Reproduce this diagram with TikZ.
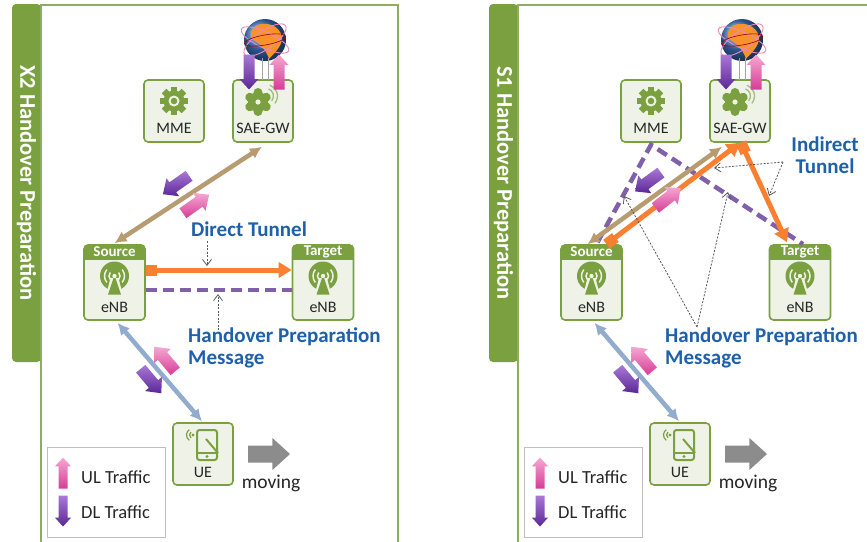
\documentclass[tikz,border=0pt]{standalone}
\usepackage{fontspec}
\setmainfont{Carlito}
\usetikzlibrary{arrows.meta,calc}

\definecolor{lteGreen}{RGB}{122,160,64}
\definecolor{boxFill}{RGB}{239,243,231}
\definecolor{labelBlue}{RGB}{30,96,170}
\definecolor{tunnelOrange}{RGB}{248,128,48}
\definecolor{msgPurple}{RGB}{128,96,170}
\definecolor{s1Tan}{RGB}{182,156,112}
\definecolor{radioBlue}{RGB}{146,172,206}
\definecolor{ulPink}{RGB}{214,60,150}
\definecolor{ulPinkLight}{RGB}{246,168,210}
\definecolor{dlPurple}{RGB}{90,40,150}
\definecolor{dlPurpleLight}{RGB}{170,120,215}
\definecolor{moveGray}{RGB}{140,140,140}
\definecolor{globeBlue}{RGB}{60,120,200}

\tikzset{
  netbox/.style={draw=lteGreen, line width=1.6pt, fill=boxFill, rounded corners=4pt,
    minimum width=60pt, minimum height=62pt, inner sep=0pt},
  enbbox/.style={draw=lteGreen, line width=1.6pt, fill=boxFill, rounded corners=4pt,
    minimum width=61pt, minimum height=75pt, inner sep=0pt},
  boxlabel/.style={font=\fontsize{16}{16}\selectfont, text=black!85, inner sep=0pt},
  tablabel/.style={font=\fontsize{15}{15}\selectfont\bfseries, text=white, inner sep=0pt},
  bluelabel/.style={font=\fontsize{21}{21.5}\selectfont\bfseries, text=labelBlue, inner sep=0pt},
  sidelabel/.style={font=\fontsize{22.5}{22.5}\selectfont\bfseries, text=white, rotate=-90, inner sep=0pt},
  framebox/.style={draw=lteGreen!85, line width=1.2pt},
  tanlink/.style={draw=s1Tan, line width=4.5pt, {Latex[length=12pt,width=12pt]}-{Latex[length=12pt,width=12pt]}},
  radiolink/.style={draw=radioBlue, line width=4.5pt, {Latex[length=12pt,width=12pt]}-{Latex[length=12pt,width=12pt]}},
  tunnel/.style={draw=tunnelOrange, line width=5pt, {Square[length=11pt,width=11pt]}-{Triangle[length=13pt,width=15pt]}},
  prepmsg/.style={draw=msgPurple, line width=4.5pt, dash pattern=on 11pt off 6pt},
  pointer/.style={draw=black!65, line width=0.8pt, dash pattern=on 2pt off 1.5pt, -{Straight Barb[length=6pt,width=9pt]}},
  ulfill/.style={top color=ulPinkLight, bottom color=ulPink},
  dlfill/.style={top color=dlPurpleLight, bottom color=dlPurple},
  movefill/.style={top color=moveGray, bottom color=moveGray},
  legendbox/.style={draw=black!25, line width=1pt, minimum width=118pt, minimum height=90pt, inner sep=0pt},
  legendlabel/.style={font=\fontsize{18.5}{18.5}\selectfont, text=black!85, inner sep=0pt, anchor=west}
}

% block arrow pointing along local +x:
% #1 total length, #2 shaft width, #3 head width, #4 fill style
\tikzset{
  pics/blockarrow/.style n args={4}{code={
    \pgfmathsetmacro\hl{0.55*#3}
    \shade[#4] ({-#1/2},{-#2/2}) -- ({#1/2-\hl},{-#2/2}) -- ({#1/2-\hl},{-#3/2})
      -- ({#1/2},0) -- ({#1/2-\hl},{#3/2}) -- ({#1/2-\hl},{#2/2}) -- ({-#1/2},{#2/2}) -- cycle;
  }}
}

% icons (local units: 1pt, y pointing down)
\tikzset{
  pics/gearicon/.style={code={
    \fill[lteGreen] (0,0) circle (10.5pt);
    \foreach \a in {0,45,...,135}
      \fill[lteGreen, rotate=\a] (-3.3,-14) rectangle (3.3,14);
    \fill[boxFill] (0,0) circle (5.5pt);
    \fill[lteGreen] (0,0) circle (3.3pt);
  }},
  pics/flowergear/.style={code={
    \foreach \a in {0,60,...,300}
      \fill[lteGreen, rotate=\a] (0,-9.5) circle (4.5pt);
    \fill[lteGreen] (0,0) circle (10pt);
    \fill[boxFill] (0,0) circle (2.6pt);
    \draw[lteGreen!70, line width=1.3pt] (8,-6) ++(40:7.5) arc (40:-70:7.5);
    \draw[lteGreen!70, line width=1.3pt] (8,-6) ++(40:11.5) arc (40:-70:11.5);
  }},
  pics/antennaicon/.style={code={
    \fill[lteGreen] (0,0) circle (14.5pt);
    \draw[boxFill, line width=1.5pt] (0,0) ++(-40:10) arc (-40:40:10);
    \draw[boxFill, line width=1.5pt] (0,0) ++(140:10) arc (140:220:10);
    \draw[boxFill, line width=1.5pt] (0,0) ++(-40:5.5) arc (-40:40:5.5);
    \draw[boxFill, line width=1.5pt] (0,0) ++(140:5.5) arc (140:220:5.5);
    \fill[boxFill] (-4,2) -- (4,2) -- (8.5,19.5) -- (-8.5,19.5) -- cycle;
    \fill[lteGreen] (0,-1) -- (6.5,18.5) -- (-6.5,18.5) -- cycle;
    \fill[boxFill] (0,0) circle (2.2pt);
  }},
  pics/phoneicon/.style={code={
    \draw[lteGreen, line width=2pt, rounded corners=2.5pt] (-10,-15) rectangle (10,15);
    \draw[lteGreen, line width=1.3pt] (-10,8) -- (10,8);
    \fill[lteGreen] (0,11.5) circle (1.7pt);
    \draw[lteGreen, line width=2pt] (-1,-6) -- (11,8);
    \fill[lteGreen] (-14,-10) circle (1.7pt);
    \draw[lteGreen, line width=1.2pt] (-14,-10) ++(125:3.5) arc (125:235:3.5);
    \draw[lteGreen, line width=1.2pt] (-14,-10) ++(125:6.5) arc (125:235:6.5);
  }},
  pics/globeicon/.style={code={
    \shade[ball color=globeBlue] (0,0) circle (21pt);
    \fill[tunnelOrange!85!yellow] (-8,-15) .. controls (6,-20) and (18,-10) .. (17,0)
      .. controls (15,9) and (7,15) .. (4,19)
      .. controls (1,9) and (-6,3) .. (-12,0)
      .. controls (-17,-3) and (-14,-12) .. cycle;
    \draw[ulPink!60, line width=0.9pt, rotate=-25] (0,0) ellipse (26pt and 8pt);
    \draw[ulPink!60, line width=0.9pt, rotate=35] (0,0) ellipse (25pt and 9pt);
    \draw[red!60!black, line width=0.6pt, rotate=10] (0,0) ellipse (21pt and 5pt);
  }}
}

% nodes shared by both panels; #1 is a name suffix
\newcommand{\corepanel}[1]{%
  % side banner and frame
  \fill[lteGreen, rounded corners=4pt] (12,4) -- (41,4) -- (41,362) -- (12,362) -- cycle;
  \draw[framebox] (41,548) -- (41,5) -- (398,5) -- (398,548);
  % core network
  \node[netbox] (mme#1) at (174,111) {};
  \pic at (174,101) {gearicon};
  \node[boxlabel] (mmetext#1) at (174,128) {MME};
  \node[netbox] (gw#1) at (263,111) {};
  \pic at (258,102) {flowergear};
  \node[boxlabel] (gwtext#1) at (263,128) {SAE-GW};
  % internet
  \pic at (265,40) {globeicon};
  \draw[black!35, line width=0.8pt] (262,58) -- (262,80);
  \draw[black!35, line width=0.8pt] (268,58) -- (268,80);
  \pic[rotate=-90] at (249,72) {blockarrow={35}{11}{19}{dlfill}};
  \pic[rotate=90] at (279,72) {blockarrow={35}{11}{19}{ulfill}};
  % eNodeBs
  \node[enbbox] (src#1) at (114.5,282.5) {};
  \fill[lteGreen, rounded corners=4pt] (84,244.5) rectangle (145,259);
  \fill[lteGreen] (84,254) rectangle (145,259.5);
  \node[tablabel] (srctab#1) at (114.5,252) {Source};
  \pic at (114.5,276) {antennaicon};
  \node[boxlabel] (srctext#1) at (114.5,307) {eNB};
  \node[enbbox] (tgt#1) at (323,282.5) {};
  \fill[lteGreen, rounded corners=4pt] (292.5,244.5) rectangle (353.5,259);
  \fill[lteGreen] (292.5,254) rectangle (353.5,259.5);
  \node[tablabel] (tgttab#1) at (323,252) {Target};
  \pic at (323,276) {antennaicon};
  \node[boxlabel] (tgttext#1) at (323,307) {eNB};
  % UE
  \node[netbox] (ue#1) at (203,454) {};
  \pic at (207,445) {phoneicon};
  \node[boxlabel] (uetext#1) at (203,472) {UE};
  \pic at (269,454) {blockarrow={42}{17}{32}{movefill}};
  \node[font=\fontsize{19.5}{19.5}\selectfont, text=black!85, inner sep=0pt] (movetext#1) at (271,483) {moving};
  % radio link
  \draw[radiolink] ($(src#1.south)+(3,2)$) -- ($(ue#1.north)+(-1,-1)$);
  \pic[rotate=130] at (165,359) {blockarrow={32}{12}{22}{ulfill}};
  \pic[rotate=-50] at (151,381) {blockarrow={32}{12}{22}{dlfill}};
  % legend
  \node[legendbox] (legend#1) at (106,492) {};
  \pic[rotate=90] at (63,473) {blockarrow={31}{9}{16}{ulfill}};
  \node[legendlabel] (legultext#1) at (81,477) {UL Traffic};
  \pic[rotate=-90] at (63,511) {blockarrow={31}{9}{16}{dlfill}};
  \node[legendlabel] (legdltext#1) at (81,512) {DL Traffic};
}

\begin{document}
\begin{tikzpicture}[x=1pt,y=-1pt]
\useasboundingbox (0,0) rectangle (867,541);
\fill[white] (0,0) rectangle (867,541);

% ---------------- X2 handover ----------------
\begin{scope}
  \corepanel{L}
  \node[sidelabel] (sidetextL) at (26.5,183) {X2 Handover Preparation};
  % S1 user plane towards the gateway
  \draw[tanlink] ($(srcL.north)+(0,-1)$) -- ($(gwL.south)+(-1,4)$);
  \pic[rotate=215] at (176,185) {blockarrow={32}{12}{22}{dlfill}};
  \pic[rotate=35] at (196,204) {blockarrow={32}{12}{22}{ulfill}};
  % X2 direct tunnel and preparation message
  \coordinate (tunStartL) at ($(srcL.east)+(0,-12.5)$);
  \coordinate (tunEndL) at ($(tgtL.west)+(0,-12.5)$);
  \draw[tunnel] (tunStartL) -- (tunEndL);
  \draw[prepmsg] ($(srcL.east)+(0,7.5)$) -- ($(tgtL.west)+(0,7.5)$);
  \node[bluelabel] (dtL) at (249,229) {Direct Tunnel};
  \coordinate (dtTipL) at (207,266);
  \draw[pointer] (207,241) -- (dtTipL);
  \node[bluelabel, align=left, anchor=north west] (hpmL) at (188,328) {Handover Preparation\\Message};
  \coordinate (hpmTipL) at (218,294);
  \draw[pointer] (218,330) -- (hpmTipL);
\end{scope}

% ---------------- S1 handover ----------------
\begin{scope}[xshift=477pt]
  \corepanel{R}
  \node[sidelabel] (sidetextR) at (26.5,183) {S1 Handover Preparation};
  \draw[framebox] (398,5) -- (400,5);
  % preparation message via the MME
  \draw[prepmsg] ($(srcR.north)+(6,-2)$) -- ($(mmeR.south)+(0,2)$) -- ($(tgtR.north)+(3,0)$);
  % S1 user plane
  \draw[tanlink] ($(srcR.north)+(-4,0)$) -- ($(gwR.south)+(-18,4)$);
  % indirect tunnel via the gateway
  \draw[tunnel] ($(srcR.north)+(15,0)$) -- ($(gwR.south)+(0,0)$);
  \draw[tunnel] ($(gwR.south)+(1,0)$) -- ($(tgtR.north)+(-13,-2)$);
  \pic[rotate=216] at (171,182) {blockarrow={32}{12}{22}{dlfill}};
  \pic[rotate=38] at (191,198) {blockarrow={32}{12}{22}{ulfill}};
  \node[bluelabel, align=center] (itR) at (348,155) {Indirect\\Tunnel};
  \coordinate (itSrcR) at (306,162);
  \coordinate (itTipAR) at (237,168);
  \coordinate (itTipBR) at (292,196);
  \draw[pointer] (itSrcR) -- (itTipAR);
  \draw[pointer] (itSrcR) -- (itTipBR);
  \node[bluelabel, align=left, anchor=north west] (hpmR) at (188,328) {Handover Preparation\\Message};
  \coordinate (hpmSrcR) at (220,327);
  \coordinate (hpmTipAR) at (147,196);
  \coordinate (hpmTipBR) at (251,192);
  \draw[pointer] (hpmSrcR) -- (hpmTipAR);
  \draw[pointer] (hpmSrcR) -- (hpmTipBR);
\end{scope}
\end{tikzpicture}
\end{document}
